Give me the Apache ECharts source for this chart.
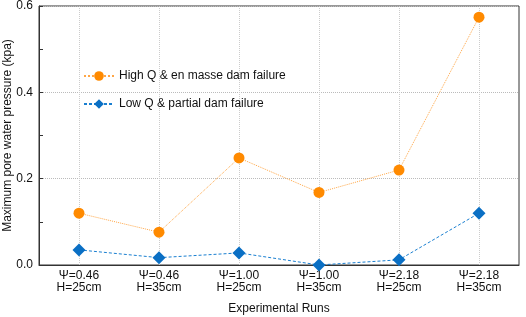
<!DOCTYPE html>
<html>
<head>
<meta charset="utf-8">
<script src="https://cdn.jsdelivr.net/npm/echarts@6/dist/echarts.min.js"></script>
<style>html,body{margin:0;padding:0;background:#fff}#main{width:526px;height:317px}</style>
</head>
<body>
<div id="main"></div>
<script>
var myChart = echarts.init(document.getElementById('main'));

var runs = ['Ψ=0.46\nH=25cm', 'Ψ=0.46\nH=35cm', 'Ψ=1.00\nH=25cm', 'Ψ=1.00\nH=35cm', 'Ψ=2.18\nH=25cm', 'Ψ=2.18\nH=35cm'];
var highQ = [0.120, 0.076, 0.248, 0.168, 0.220, 0.574];
var lowQ = [0.035, 0.017, 0.028, 0.000, 0.012, 0.120];

var font = 'Liberation Sans, Arial, sans-serif';

// vertical dotted guides through each category centre
var vGuides = runs.map(function (r) { return { xAxis: r }; });

var option = {
  animation: false,
  textStyle: { fontFamily: font },
  grid: {
    left: 39, right: 7, top: 6, bottom: 52,
    outerBoundsMode: 'none', containLabel: false,
    show: true, borderColor: '#333', borderWidth: 1
  },
  legend: {
    orient: 'vertical',
    left: 78,
    top: 65,
    itemGap: 16,
    itemWidth: 30,
    itemHeight: 12,
    textStyle: { fontFamily: font, fontSize: 12, color: '#111' },
    data: ['High Q & en masse dam failure', 'Low Q & partial dam failure']
  },
  xAxis: {
    type: 'category',
    data: runs,
    name: 'Experimental Runs',
    nameLocation: 'middle',
    nameGap: 38,
    nameMoveOverlap: false,
    nameTextStyle: { fontSize: 12, color: '#111' },
    axisLine: { lineStyle: { color: '#333' } },
    axisTick: { inside: true, alignWithLabel: true, length: 4, lineStyle: { color: '#333' } },
    axisLabel: { color: '#111', fontSize: 12, lineHeight: 12, margin: 5 },
    splitLine: { show: false }
  },
  yAxis: {
    type: 'value',
    min: 0,
    max: 0.6,
    interval: 0.2,
    name: 'Maximum pore water pressure (kpa)',
    nameLocation: 'middle',
    nameGap: 25,
    nameMoveOverlap: false,
    nameTextStyle: { fontSize: 12, color: '#111' },
    axisLine: { show: true, lineStyle: { color: '#333' } },
    axisTick: { show: true, inside: true, length: 4, lineStyle: { color: '#333' } },
    minorTick: { show: true, splitNumber: 2, length: 4, lineStyle: { color: '#333' } },
    axisLabel: { color: '#111', fontSize: 12, margin: 6, formatter: function (v) { return v.toFixed(1); } },
    splitLine: { show: true, lineStyle: { type: 'dotted', color: '#bbb' } }
  },
  series: [
    {
      name: 'High Q & en masse dam failure',
      type: 'line',
      data: highQ,
      z: 3,
      symbol: 'circle',
      symbolSize: 11,
      itemStyle: { color: '#ff8a00' },
      lineStyle: { color: '#ffa646', width: 1, type: 'dotted' },
      markLine: {
        silent: true,
        symbol: 'none',
        label: { show: false },
        z: 1,
        lineStyle: { color: '#ccc', type: 'dotted', width: 1 },
        data: vGuides
      }
    },
    {
      name: 'Low Q & partial dam failure',
      type: 'line',
      data: lowQ,
      z: 3,
      symbol: 'diamond',
      symbolSize: 13,
      itemStyle: { color: '#0a6fc4' },
      lineStyle: { color: '#1a7fd0', width: 1, type: [3, 2] }
    }
  ]
};
myChart.setOption(option);
</script>
</body>
</html>
